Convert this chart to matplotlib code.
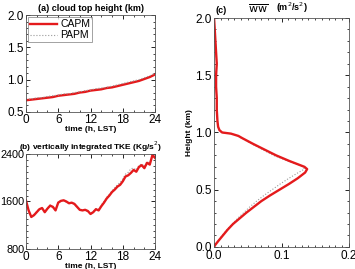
import numpy as np
import matplotlib.pyplot as plt
from matplotlib.ticker import MultipleLocator

plt.rcParams['font.family'] = ['Liberation Sans', 'DejaVu Sans']

# (a) cloud top height, hourly
t_a = list(range(25))
cth_capm = [0.68, 0.69, 0.70, 0.71, 0.72, 0.73, 0.75, 0.76, 0.77, 0.78, 0.80, 0.81, 0.83,
            0.84, 0.85, 0.87, 0.88, 0.90, 0.92, 0.94, 0.96, 0.98, 1.01, 1.04, 1.08]
cth_papm = [0.70, 0.70, 0.72, 0.72, 0.74, 0.75, 0.76, 0.78, 0.78, 0.80, 0.81, 0.83, 0.84,
            0.86, 0.87, 0.88, 0.90, 0.92, 0.94, 0.96, 0.98, 1.00, 1.03, 1.06, 1.10]

# (b) vertically integrated TKE, half-hourly
t_b = [i * 0.5 for i in range(49)]
tke_capm = [1620, 1450, 1340, 1370, 1420, 1470, 1490, 1420, 1480, 1530, 1510, 1450, 1580,
            1610, 1620, 1600, 1570, 1580, 1560, 1510, 1460, 1450, 1460, 1440, 1390, 1420,
            1470, 1450, 1520, 1580, 1650, 1700, 1760, 1800, 1850, 1880, 1940, 2020, 2040,
            2080, 2130, 2100, 2180, 2210, 2160, 2250, 2220, 2380, 2330]
tke_papm = [1600, 1440, 1360, 1380, 1430, 1480, 1480, 1430, 1490, 1540, 1500, 1460, 1590,
            1620, 1610, 1590, 1580, 1570, 1550, 1500, 1470, 1460, 1450, 1430, 1400, 1430,
            1480, 1470, 1540, 1600, 1670, 1720, 1780, 1830, 1880, 1920, 1980, 2060, 2090,
            2150, 2160, 2130, 2210, 2230, 2190, 2270, 2240, 2400, 2350]

# (c) w'w' profile
z = [0, 0.02, 0.05, 0.1, 0.15, 0.2, 0.25, 0.3, 0.35, 0.4, 0.45, 0.5, 0.55, 0.6, 0.65,
     0.68, 0.7, 0.75, 0.8, 0.85, 0.9, 0.95, 0.97, 0.99, 1.0, 1.02, 1.05, 1.1, 1.2, 1.3,
     1.4, 1.5, 1.6, 1.7, 1.8, 1.9, 2.0]
ww_capm = [0, 0.002, 0.006, 0.013, 0.02, 0.028, 0.038, 0.048, 0.059, 0.070, 0.083, 0.097,
           0.111, 0.124, 0.135, 0.138, 0.134, 0.112, 0.092, 0.075, 0.058, 0.042, 0.036,
           0.025, 0.012, 0.008, 0.006, 0.005, 0.004, 0.004, 0.003, 0.003, 0.004, 0.003,
           0.002, 0.001, 0.0]
ww_papm = [0, 0.002, 0.006, 0.012, 0.019, 0.027, 0.035, 0.044, 0.053, 0.063, 0.074, 0.086,
           0.098, 0.111, 0.125, 0.134, 0.132, 0.110, 0.088, 0.072, 0.056, 0.041, 0.035,
           0.024, 0.011, 0.008, 0.006, 0.005, 0.004, 0.004, 0.003, 0.003, 0.004, 0.003,
           0.002, 0.001, 0.0]

red = '#e41a1c'
grey = '#999999'


def style(ax, size=8.5):
    ax.tick_params(which='both', direction='in', top=True, right=True, labelsize=size,
                   pad=1.5)
    ax.tick_params(which='major', length=3, width=0.6)
    ax.tick_params(which='minor', length=1.5, width=0.5)
    for s in ax.spines.values():
        s.set_linewidth(0.6)
        s.set_color('#555555')


fig = plt.figure(figsize=(3.55, 2.69), dpi=100)

ax1 = fig.add_axes([0.073, 0.584, 0.364, 0.360])
ax1.plot(t_a, cth_capm, color=red, lw=1.7, label='CAPM')
ax1.plot(t_a, cth_papm, color=grey, lw=0.8, ls=':', label='PAPM')
ax1.set_xlim(0, 24)
ax1.set_ylim(0.5, 2.0)
ax1.set_xticks([0, 6, 12, 18, 24])
ax1.set_yticks([0.5, 1.0, 1.5, 2.0])
ax1.xaxis.set_minor_locator(MultipleLocator(2))
ax1.yaxis.set_minor_locator(MultipleLocator(0.1))
ax1.set_title('(a) cloud top height (km)', fontsize=6.5, fontweight='bold', pad=3)
ax1.set_xlabel('time (h, LST)', fontsize=6, fontweight='bold', labelpad=0)
style(ax1)
leg = ax1.legend(loc='upper left', fontsize=7.5, frameon=True, fancybox=False,
                 borderpad=0.2, handlelength=2.6, handletextpad=0.3, labelspacing=0.1,
                 borderaxespad=0.2)
leg.get_frame().set_edgecolor('#777777')
leg.get_frame().set_linewidth(0.6)

ax2 = fig.add_axes([0.073, 0.074, 0.364, 0.354])
ax2.plot(t_b, tke_papm, color=grey, lw=0.8, ls=':')
ax2.plot(t_b, tke_capm, color=red, lw=1.7)
ax2.set_xlim(0, 24)
ax2.set_ylim(800, 2400)
ax2.set_xticks([0, 6, 12, 18, 24])
ax2.set_yticks([800, 1600, 2400])
ax2.xaxis.set_minor_locator(MultipleLocator(2))
ax2.yaxis.set_minor_locator(MultipleLocator(100))
ax2.set_title('(b) vertically integrated TKE (Kg/s$^2$)', fontsize=6, fontweight='bold',
              pad=3)
ax2.set_xlabel('time (h, LST)', fontsize=6, fontweight='bold', labelpad=0)
style(ax2)
ax2.tick_params(axis='y', labelsize=7.8, pad=1)

ax3 = fig.add_axes([0.603, 0.082, 0.380, 0.851])
ax3.plot(ww_papm, z, color=grey, lw=0.8, ls=':')
ax3.plot(ww_capm, z, color=red, lw=1.7)
ax3.set_xlim(0, 0.2)
ax3.set_ylim(0, 2.0)
ax3.set_xticks([0.0, 0.1, 0.2])
ax3.set_yticks([0.0, 0.5, 1.0, 1.5, 2.0])
ax3.xaxis.set_minor_locator(MultipleLocator(0.01))
ax3.yaxis.set_minor_locator(MultipleLocator(0.1))
ax3.set_ylabel('Height (km)', fontsize=6, fontweight='bold', labelpad=2)
style(ax3)
ax3.tick_params(axis='x', pad=2.5)
ax3.text(0.01, 1.015, '(c)', transform=ax3.transAxes, fontsize=6.5, fontweight='bold',
         va='bottom')
ax3.text(0.25, 1.015, r"$\overline{\mathrm{ww}}$", transform=ax3.transAxes, fontsize=8,
         va='bottom', family='serif')
ax3.text(0.46, 1.015, '(m$^2$/s$^2$)', transform=ax3.transAxes, fontsize=6.5,
         fontweight='bold', va='bottom')

fig.savefig('out.png', dpi=100)
